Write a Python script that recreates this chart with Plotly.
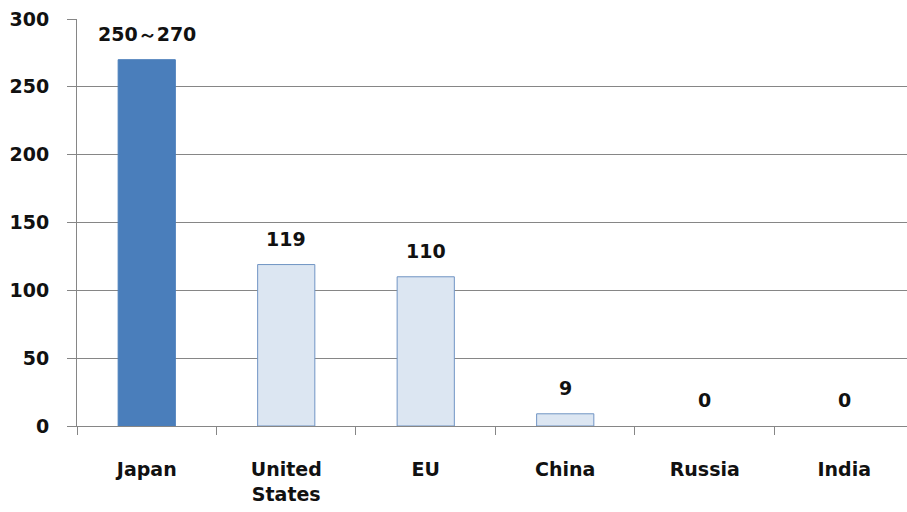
import plotly.graph_objects as go

categories = ["Japan", "United<br>States", "EU", "China", "Russia", "India"]
values = [270, 119, 110, 9, 0, 0]
value_labels = ["250～270", "119", "110", "9", "0", "0"]
y_ticks = [0, 50, 100, 150, 200, 250, 300]

fill_colors = ["#4A7EBB"] + ["#DCE6F2"] * 5
line_colors = ["#4A7EBB"] + ["#7094C4"] * 5
line_widths = [1 if v > 0 else 0 for v in values]

font_family = "DejaVu Sans"
txt = dict(family=font_family, size=19, color="#111", weight="bold")

fig = go.Figure()
fig.add_trace(go.Bar(
    x=categories, y=values,
    width=0.41,
    marker=dict(color=fill_colors, line=dict(color=line_colors, width=line_widths)),
    hoverinfo="skip",
))

for c, v, t in zip(categories, values, value_labels):
    fig.add_annotation(x=c, y=v, text=t, showarrow=False, yanchor="bottom",
                       yshift=13, font=txt)

fig.update_layout(
    width=907, height=512,
    margin=dict(l=77, r=0, t=19, b=86),
    paper_bgcolor="white", plot_bgcolor="white",
    showlegend=False,
    font=txt,
)
fig.update_xaxes(
    type="category", range=[-0.5, 5.45],
    tickson="boundaries", ticks="outside", ticklen=8, tickcolor="#868686",
    showline=True, linecolor="#868686", linewidth=1,
    showgrid=False, zeroline=False,
    ticklabelstandoff=26,
    tickfont=txt,
)
fig.update_yaxes(
    range=[0, 300], tickvals=y_ticks,
    ticks="outside", ticklen=9, tickcolor="#868686",
    showline=True, linecolor="#868686", linewidth=1,
    showgrid=True, gridcolor="#868686", gridwidth=1,
    zeroline=False,
    ticklabelstandoff=14,
    tickfont=txt,
)

fig.write_html("out.html")
